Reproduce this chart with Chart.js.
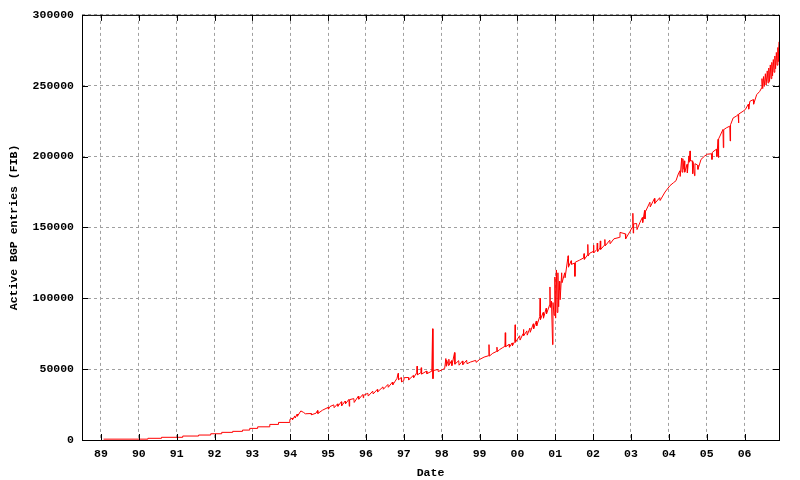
<!DOCTYPE html>
<html>
<head>
<meta charset="utf-8">
<title>Active BGP entries (FIB)</title>
<script src="https://cdn.jsdelivr.net/npm/chart.js@4/dist/chart.umd.min.js"></script>
<style>
    html, body { margin: 0; padding: 0; background: #fff; }
    #wrap { width: 800px; height: 480px; }
</style>
</head>
<body>
<div id="wrap"><canvas id="js--chart"></canvas></div>
<script>
const yearLabels = ['89', '90', '91', '92', '93', '94', '95', '96', '97', '98', '99', '00', '01', '02', '03', '04', '05', '06'];

// decimal year of each sample
const dates = [
    1989.07, 1990.24, 1990.24, 1990.60, 1990.60, 1991.16, 1991.16, 1991.58, 1991.58, 1991.90, 1991.90,
    1992.19, 1992.19, 1992.48, 1992.48, 1992.74, 1992.74, 1992.93, 1992.93,
    1993.14, 1993.14, 1993.46, 1993.46, 1993.69, 1993.69, 1993.99, 1993.99,
    1994.05, 1994.06, 1994.12, 1994.13, 1994.18, 1994.19, 1994.28, 1994.35, 1994.40, 1994.55, 1994.56, 1994.68, 1994.72, 1994.73, 1994.85,
    1995.00, 1995.01, 1995.05, 1995.15, 1995.16, 1995.25, 1995.26, 1995.35, 1995.36, 1995.45, 1995.46, 1995.55, 1995.56, 1995.57, 1995.68, 1995.69, 1995.80, 1995.81, 1995.92, 1995.93, 1995.94,
    1996.05, 1996.06, 1996.18, 1996.19, 1996.30, 1996.31, 1996.45, 1996.46, 1996.58, 1996.59, 1996.70, 1996.71, 1996.82, 1996.85, 1996.86, 1996.93, 1996.94,
    1997.00, 1997.01, 1997.12, 1997.13, 1997.25, 1997.26, 1997.34, 1997.35, 1997.36, 1997.45, 1997.46, 1997.47, 1997.60, 1997.61, 1997.74, 1997.76, 1997.77, 1997.78, 1997.90, 1997.91,
    1998.03, 1998.08, 1998.11, 1998.12, 1998.13, 1998.18, 1998.19, 1998.20, 1998.26, 1998.27, 1998.34, 1998.35, 1998.45, 1998.46, 1998.55, 1998.56, 1998.66, 1998.67, 1998.76, 1998.90, 1998.91,
    1999.00, 1999.12, 1999.24, 1999.25, 1999.26, 1999.35, 1999.45, 1999.46, 1999.47, 1999.53, 1999.60, 1999.67, 1999.68, 1999.69, 1999.78, 1999.79, 1999.86, 1999.87, 1999.93, 1999.94, 1999.95,
    2000.06, 2000.07, 2000.15, 2000.16, 2000.17, 2000.25, 2000.26, 2000.33, 2000.34, 2000.42, 2000.43, 2000.50, 2000.51, 2000.59, 2000.60, 2000.61, 2000.68, 2000.69, 2000.76, 2000.77, 2000.85, 2000.86, 2000.87, 2000.90, 2000.93, 2000.94, 2000.97, 2000.99,
    2001.01, 2001.03, 2001.05, 2001.07, 2001.09, 2001.11, 2001.12, 2001.13, 2001.17, 2001.18, 2001.25, 2001.26, 2001.33, 2001.34, 2001.35, 2001.42, 2001.43, 2001.51, 2001.52, 2001.53, 2001.64, 2001.75, 2001.76, 2001.77, 2001.85, 2001.86, 2001.87, 2001.91,
    2002.00, 2002.01, 2002.02, 2002.10, 2002.11, 2002.12, 2002.18, 2002.19, 2002.20, 2002.30, 2002.31, 2002.32, 2002.44, 2002.45, 2002.55, 2002.70, 2002.71, 2002.85, 2002.86, 2002.97,
    2003.03, 2003.05, 2003.06, 2003.07, 2003.15, 2003.16, 2003.24, 2003.30, 2003.31, 2003.36, 2003.37, 2003.38, 2003.50, 2003.51, 2003.62, 2003.63, 2003.76, 2003.77, 2003.90,
    2004.03, 2004.12, 2004.19, 2004.24, 2004.29, 2004.30, 2004.34, 2004.35, 2004.37, 2004.40, 2004.41, 2004.42, 2004.48, 2004.49, 2004.53, 2004.54, 2004.56, 2004.57, 2004.62, 2004.63, 2004.64, 2004.68, 2004.69, 2004.76, 2004.77, 2004.85, 2004.95,
    2005.02, 2005.13, 2005.14, 2005.15, 2005.22, 2005.26, 2005.27, 2005.30, 2005.31, 2005.32, 2005.35, 2005.43, 2005.44, 2005.45, 2005.52, 2005.61, 2005.62, 2005.63, 2005.70, 2005.78, 2005.83, 2005.84, 2005.85, 2005.96,
    2006.02, 2006.10, 2006.11, 2006.14, 2006.23, 2006.24, 2006.32, 2006.40, 2006.45,
    2006.46, 2006.48, 2006.50, 2006.52, 2006.55, 2006.57, 2006.60, 2006.62, 2006.64, 2006.66, 2006.68, 2006.70,
    2006.72, 2006.74, 2006.76, 2006.78, 2006.80, 2006.82, 2006.84, 2006.86, 2006.88, 2006.89, 2006.91
];

// active FIB entries, same order as dates
const entries = [
    600, 600, 1200, 1200, 1900, 1900, 2800, 2800, 3500, 3500, 4400,
    4400, 5400, 5400, 6100, 6100, 7000, 7000, 8200,
    8200, 9300, 9300, 11000, 11000, 12400, 12400, 14500,
    15500, 14200, 17000, 15500, 18200, 16800, 20500, 19500, 18500, 18700, 17800, 18900, 20800, 18700, 21000,
    23000, 21800, 23600, 24800, 22800, 25500, 23800, 27000, 24200, 27500, 25500, 28700, 23800, 28500, 29200, 26500, 31000, 28800, 32200, 29800, 31500,
    33000, 31000, 34500, 32500, 35700, 34000, 37500, 35800, 39200, 37200, 40900, 39000, 43500, 47000, 42500, 44000, 41000,
    42000, 44000, 44100, 42500, 45500, 44000, 47400, 52100, 46000, 47500, 51000, 46500, 48600, 46800, 48600, 78500, 43300, 49000, 49800, 48300,
    49800, 50500, 57500, 52100, 56500, 52500, 57000, 53000, 56000, 52500, 61700, 53500, 56000, 52800, 55800, 53200, 56300, 53800, 55000, 56200, 54800,
    56800, 58500, 59500, 67300, 59200, 61200, 62500, 65500, 62300, 63800, 65000, 66100, 75700, 65800, 67500, 65500, 68500, 66500, 69600, 81300, 69000,
    73600, 70500, 75000, 78000, 73500, 77000, 74000, 79000, 76000, 82000, 78500, 84000, 80500, 87100, 100000, 85000, 90000, 86000, 93000, 89000, 95300, 108000, 93500, 98000, 67300, 97000, 88000, 115000,
    86000, 120000, 90000, 118000, 94000, 112000, 106000, 99000, 118000, 111000, 118000, 114500, 128000, 130000, 122000, 126500, 124000, 124800, 115500, 125500, 126900, 128500, 131500, 127500, 130500, 138000, 129800, 131800,
    133000, 137500, 132000, 134500, 139000, 133000, 135500, 140500, 134500, 137500, 141500, 137000, 141000, 138500, 142000, 143000, 146500, 145500, 142000, 147000,
    150000, 160000, 146000, 152500, 152800, 148500, 153700, 157000, 153500, 162000, 156000, 161000, 167800, 164500, 170500, 167000, 171000, 169000, 175000,
    179500, 181500, 183000, 187000, 190000, 186000, 199000, 189000, 198500, 191000, 197000, 189000, 194500, 188500, 200500, 196000, 204000, 197000, 197000, 188000, 196000, 186500, 195000, 194000, 191000, 198000, 200500,
    201700, 202000, 198000, 203000, 204500, 205200, 200000, 212200, 199300, 212500, 214500, 219200, 206300, 219000, 220300, 221500, 211000, 222500, 227300, 228500, 229700, 223800, 230000, 232000,
    233200, 237000, 233500, 239000, 240200, 237000, 243700, 246000, 248400,
    255000, 248000, 256500, 249500, 258500, 250500, 260500, 252000, 262500, 253000, 264700, 255000,
    266500, 257000, 268500, 259500, 271000, 262000, 273500, 264500, 277000, 267000, 281000
];

const monoFont = { family: "'Liberation Mono', 'DejaVu Sans Mono', monospace", size: 11.5, weight: 'bold' };

// gnuplot style: black frame, ticks pointing into the plot
const framePlugin = {
    id: 'frame',
    afterDraw(chart) {
        const { ctx, chartArea: a, scales } = chart;
        ctx.save();
        ctx.strokeStyle = '#000';
        ctx.lineWidth = 1;
        ctx.beginPath();
        scales.x.ticks.forEach(function (t) {
            const px = Math.round(scales.x.getPixelForValue(t.value)) + 0.5;
            ctx.moveTo(px, a.bottom);
            ctx.lineTo(px, a.bottom - 6);
            ctx.moveTo(px, a.top);
            ctx.lineTo(px, a.top + 6);
        });
        scales.y.ticks.forEach(function (t) {
            const py = Math.round(scales.y.getPixelForValue(t.value)) + 0.5;
            ctx.moveTo(a.left, py);
            ctx.lineTo(a.left + 6, py);
            ctx.moveTo(a.right, py);
            ctx.lineTo(a.right - 6, py);
        });
        ctx.stroke();
        ctx.strokeRect(a.left + 0.5, a.top + 0.5, a.right - a.left, a.bottom - a.top);
        ctx.restore();
    }
};

const config = {
    type: 'line',
    data: {
        datasets: [{
            label: 'Active BGP entries (FIB)',
            data: dates.map(function (d, i) { return { x: d, y: entries[i] }; }),
            borderColor: '#ff0000',
            borderWidth: 1,
            pointRadius: 0,
            tension: 0,
            fill: false
        }]
    },
    options: {
        responsive: true,
        maintainAspectRatio: false,
        animation: false,
        layout: { padding: { top: 13, right: 21, left: 0, bottom: 0 } },
        plugins: {
            legend: { display: false },
            tooltip: { enabled: false }
        },
        scales: {
            x: {
                type: 'linear',
                min: 1988.5,
                max: 2006.91,
                afterFit: function (scale) { scale.height = 40; },
                grid: { color: '#a0a0a0', lineWidth: 1, drawTicks: false },
                border: { display: false, dash: [3, 3] },
                ticks: {
                    stepSize: 1,
                    includeBounds: false,
                    autoSkip: false,
                    maxRotation: 0,
                    padding: 7,
                    color: '#000',
                    font: monoFont,
                    callback: function (v) { return yearLabels[Math.round(v) - 1989]; }
                },
                title: {
                    display: true,
                    text: 'Date',
                    color: '#000',
                    font: monoFont,
                    padding: { top: 0, bottom: 0 }
                }
            },
            y: {
                min: 0,
                max: 300000,
                afterFit: function (scale) { scale.width = 82; },
                grid: { color: '#a0a0a0', lineWidth: 1, drawTicks: false },
                border: { display: false, dash: [3, 3] },
                ticks: {
                    stepSize: 50000,
                    padding: 8,
                    color: '#000',
                    font: monoFont,
                    callback: function (v) { return String(v); }
                },
                title: {
                    display: true,
                    text: 'Active BGP entries (FIB)',
                    color: '#000',
                    font: monoFont,
                    padding: { top: 7, bottom: 0 }
                }
            }
        }
    },
    plugins: [framePlugin]
};

new Chart(document.getElementById('js--chart'), config);
</script>
</body>
</html>
